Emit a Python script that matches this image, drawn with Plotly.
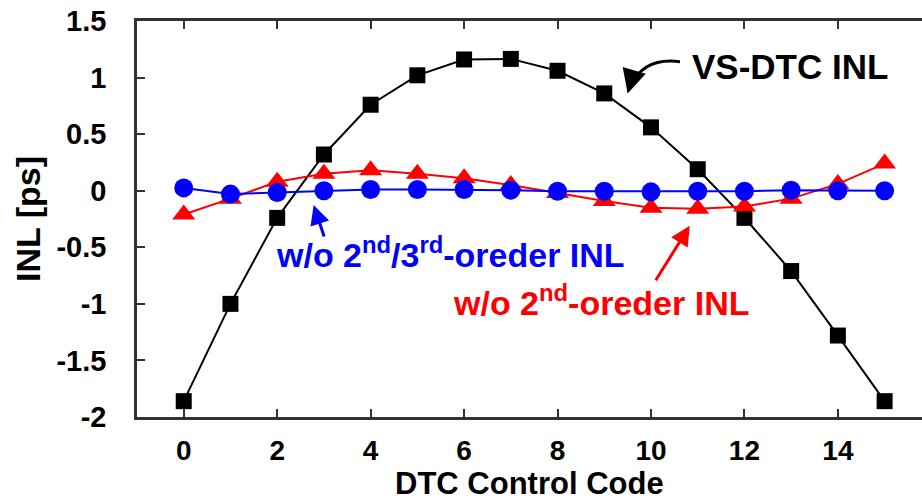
import plotly.graph_objects as go

codes = list(range(16))
vs_dtc_inl = [-1.86, -1.00, -0.24, 0.32, 0.76, 1.02, 1.16, 1.165, 1.06, 0.86, 0.56, 0.19, -0.24, -0.71, -1.28, -1.86]
wo_2nd_inl = [-0.21, -0.07, 0.08, 0.15, 0.18, 0.15, 0.11, 0.05, -0.02, -0.09, -0.15, -0.16, -0.14, -0.07, 0.06, 0.24]
wo_2nd_3rd_inl = [0.025, -0.03, -0.015, 0.0, 0.01, 0.01, 0.01, 0.005, -0.005, -0.005, -0.01, -0.005, -0.005, 0.005, 0.0, 0.0]

x_ticks = [0, 2, 4, 6, 8, 10, 12, 14]
y_ticks = [-2, -1.5, -1, -0.5, 0, 0.5, 1, 1.5]
y_ticktext = ["-2", "-1.5", "-1", "-0.5", "0", "0.5", "1", "1.5"]

FONT = "Liberation Sans, Arial, sans-serif"

fig = go.Figure()
fig.add_trace(go.Scatter(x=codes, y=vs_dtc_inl, mode="lines+markers",
                         line=dict(color="black", width=2),
                         marker=dict(symbol="square", size=16, color="black")))
fig.add_trace(go.Scatter(x=codes, y=wo_2nd_inl, mode="lines+markers",
                         line=dict(color="#ff0000", width=2),
                         marker=dict(symbol="triangle-up", size=20, color="#ff0000")))
fig.add_trace(go.Scatter(x=codes, y=wo_2nd_3rd_inl, mode="lines+markers",
                         line=dict(color="#0000ff", width=2),
                         marker=dict(symbol="circle", size=19, color="#0000ff")))

fig.update_layout(
    width=922, height=503,
    margin=dict(l=137, r=0, t=21, b=86),
    paper_bgcolor="white", plot_bgcolor="white",
    showlegend=False,
    font=dict(family=FONT, color="black"),
)
fig.update_xaxes(range=[-1, 15.8], tickvals=x_ticks, ticks="inside", ticklen=8, tickwidth=2,
                 tickcolor="#333", showline=True, linecolor="#333", linewidth=2.5, mirror="ticks",
                 showgrid=False, zeroline=False,
                 tickfont=dict(size=28, family=FONT, weight="bold"),
                 ticklabelstandoff=7)
fig.update_yaxes(range=[-2, 1.5], tickvals=y_ticks, ticktext=y_ticktext, ticks="inside", ticklen=8,
                 tickwidth=2, tickcolor="#333", showline=True, linecolor="#333", linewidth=2.5,
                 showgrid=False, zeroline=False,
                 tickfont=dict(size=29, family=FONT, weight="bold"),
                 ticklabelstandoff=22,
                 title=dict(text="<b>INL [ps]</b>", font=dict(size=34, family=FONT), standoff=6))

# x-axis title placed explicitly below tick labels
fig.add_annotation(x=0.5, y=-0.167, xref="paper", yref="paper", yanchor="middle",
                   text="<b>DTC Control Code</b>", showarrow=False,
                   font=dict(size=31, color="black", family=FONT))

# curved arrow for VS-DTC INL
fig.add_shape(type="path", xref="x", yref="y",
              path="M 10.62,1.14 Q 9.85,1.18 9.57,0.93",
              line=dict(color="black", width=3))
fig.add_annotation(x=9.5, y=0.86, xref="x", yref="y", text="", showarrow=True,
                   ax=4, ay=-14, arrowhead=2, arrowsize=1.6, arrowwidth=3, arrowcolor="black")
fig.add_annotation(x=12.98, y=1.094, xref="x", yref="y", text="<b>VS-DTC INL</b>",
                   showarrow=False, font=dict(size=35, color="black", family=FONT))

# blue annotation
fig.add_annotation(x=2.78, y=-0.126, xref="x", yref="y", text="", showarrow=True,
                   ax=11, ay=33, arrowhead=2, arrowsize=1.3, arrowwidth=3, arrowcolor="#0000ff")
fig.add_annotation(x=5.70, y=-0.55, xref="x", yref="y",
                   text="<b>w/o 2<sup>nd</sup>/3<sup>rd</sup>-oreder INL</b>",
                   showarrow=False, font=dict(size=34, color="#0000ff", family=FONT))

# red annotation
fig.add_annotation(x=10.83, y=-0.31, xref="x", yref="y", text="", showarrow=True,
                   ax=-35, ay=56, arrowhead=2, arrowsize=1.3, arrowwidth=3, arrowcolor="#ff0000")
fig.add_annotation(x=8.93, y=-0.97, xref="x", yref="y",
                   text="<b>w/o 2<sup>nd</sup>-oreder INL</b>",
                   showarrow=False, font=dict(size=34, color="#ff0000", family=FONT))

fig.write_html("out.html")
